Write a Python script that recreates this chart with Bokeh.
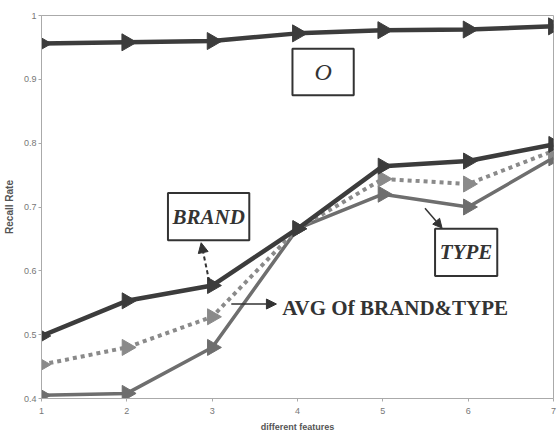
import math
from bokeh.plotting import figure
from bokeh.models import Range1d, Label, BoxAnnotation, Arrow, NormalHead, FixedTicker
from bokeh.embed import file_html
from bokeh.resources import INLINE

features = [1, 2, 3, 4, 5, 6, 7]
o_rate = [0.956, 0.958, 0.960, 0.972, 0.977, 0.978, 0.983]
brand_rate = [0.498, 0.553, 0.577, 0.666, 0.764, 0.772, 0.798]
type_rate = [0.405, 0.408, 0.480, 0.666, 0.720, 0.700, 0.777]
avg_rate = [0.453, 0.480, 0.528, 0.666, 0.744, 0.736, 0.788]
y_ticks = [0.4, 0.5, 0.6, 0.7, 0.8, 0.9, 1.0]
y_tick_labels = {0.4: "0.4", 0.5: "0.5", 0.6: "0.6", 0.7: "0.7", 0.8: "0.8", 0.9: "0.9", 1.0: "1"}

p = figure(width=558, height=436, output_backend="svg", toolbar_location=None,
           x_range=Range1d(1, 7), y_range=Range1d(0.4, 1.0),
           min_border_left=41, min_border_right=5, min_border_top=15, min_border_bottom=38)
p.grid.visible = False
p.outline_line_color = "#aaaaaa"
p.outline_line_width = 1
p.background_fill_color = "white"

for ax in (p.xaxis[0], p.yaxis[0]):
    ax.axis_line_color = "#aaaaaa"
    ax.major_tick_line_color = "#aaaaaa"
    ax.minor_tick_line_color = None
    ax.major_tick_in = 0
    ax.major_tick_out = 3
    ax.major_label_text_font = "Liberation Sans"
    ax.major_label_text_font_size = "9px"
    ax.major_label_text_color = "#777777"
    ax.axis_label_text_font = "Liberation Sans"
    ax.axis_label_text_color = "#555555"
    ax.axis_label_text_font_style = "bold"

p.xaxis.ticker = FixedTicker(ticks=features)
p.yaxis.ticker = FixedTicker(ticks=y_ticks)
p.yaxis.major_label_overrides = y_tick_labels
p.xaxis.major_label_standoff = 6
p.yaxis.major_label_standoff = 2
p.xaxis.axis_label = "different features"
p.xaxis.axis_label_text_font_size = "9px"
p.xaxis.axis_label_standoff = 5
p.yaxis.axis_label = "Recall Rate"
p.yaxis.axis_label_text_font_size = "10px"
p.yaxis.axis_label_standoff = 6

ang = -math.pi / 2
# TYPE
p.line(features, type_rate, line_color="#6e6e6e", line_width=3.5)
p.scatter(features, type_rate, marker="triangle", angle=ang, size=16,
          fill_color="#6e6e6e", line_color="#6e6e6e")
# AVG
p.line(features, avg_rate, line_color="#8a8a8a", line_width=4, line_dash="4 4")
p.scatter(features, avg_rate, marker="triangle", angle=ang, size=16,
          fill_color="#8a8a8a", line_color="#8a8a8a")
# BRAND
p.line(features, brand_rate, line_color="#3c3c3c", line_width=4.5)
p.scatter(features, brand_rate, marker="triangle", angle=ang, size=16,
          fill_color="#3c3c3c", line_color="#3c3c3c")
# O
p.line(features, o_rate, line_color="#3c3c3c", line_width=4.5)
p.scatter(features, o_rate, marker="triangle", angle=ang, size=17,
          fill_color="#3c3c3c", line_color="#3c3c3c")

# annotation boxes
for (l, r, b, t) in [(3.941, 4.659, 0.875, 0.948), (2.482, 3.435, 0.648, 0.722), (5.612, 6.341, 0.592, 0.666)]:
    p.add_layout(BoxAnnotation(left=l, right=r, bottom=b, top=t, fill_color="white", fill_alpha=1,
                               line_color="#333333", line_alpha=1, line_width=2))

p.add_layout(Label(x=4.3, y=0.912, text="O", text_font="Liberation Serif", text_font_style="italic",
                   text_font_size="24px", text_align="center", text_baseline="middle", text_color="#333333"))
p.add_layout(Label(x=2.96, y=0.685, text="BRAND", text_font="Liberation Serif", text_font_style="bold italic",
                   text_font_size="21px", text_align="center", text_baseline="middle", text_color="#333333"))
p.add_layout(Label(x=5.976, y=0.629, text="TYPE", text_font="Liberation Serif", text_font_style="bold italic",
                   text_font_size="21px", text_align="center", text_baseline="middle", text_color="#333333"))
p.add_layout(Label(x=3.82, y=0.542, text="AVG Of BRAND&TYPE", text_font="Liberation Serif", text_font_style="bold",
                   text_font_size="21px", text_align="left", text_baseline="middle", text_color="#333333"))

p.add_layout(Arrow(x_start=2.965, y_start=0.584, x_end=2.871, y_end=0.644, line_color="#333333",
                   line_width=2, line_dash="4 3",
                   end=NormalHead(size=10, fill_color="#333333", line_color="#333333")))
p.add_layout(Arrow(x_start=3.224, y_start=0.548, x_end=3.753, y_end=0.548, line_color="#333333",
                   line_width=1.5, end=NormalHead(size=10, fill_color="#333333", line_color="#333333")))
p.add_layout(Arrow(x_start=5.494, y_start=0.698, x_end=5.694, y_end=0.667, line_color="#333333",
                   line_width=1.5, end=NormalHead(size=9, fill_color="#333333", line_color="#333333")))

open("out.html", "w").write(file_html(p, INLINE))
